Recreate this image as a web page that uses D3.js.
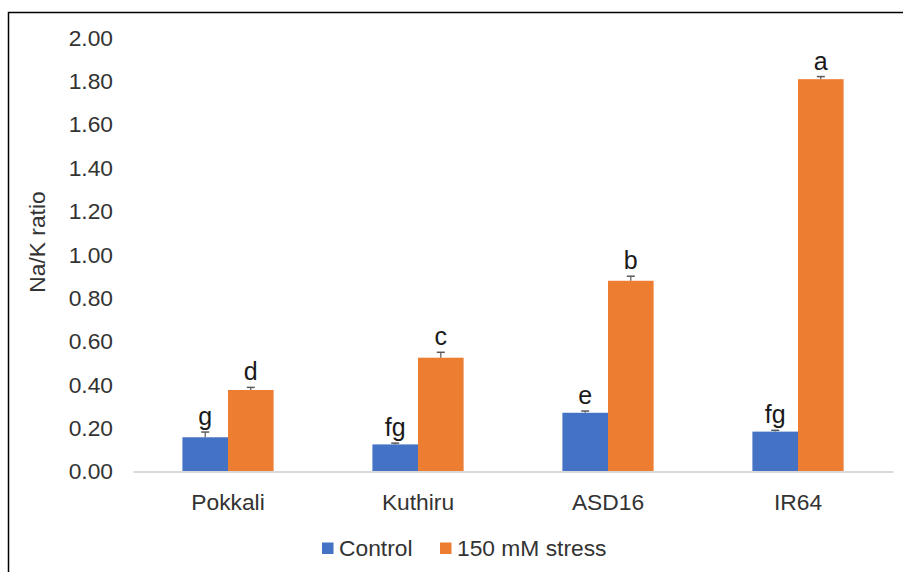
<!DOCTYPE html>
<html><head><meta charset="utf-8">
<script src="https://cdn.jsdelivr.net/npm/d3@7"></script>
<style>body{margin:0;background:#fff}svg{display:block}</style>
</head><body>
<svg id="c" width="903" height="572"></svg>
<script>
const categories = ["Pokkali", "Kuthiru", "ASD16", "IR64"];
const seriesNames = ["Control", "150 mM stress"];
const controlValues = [0.158, 0.125, 0.271, 0.184];
const stressValues = [0.376, 0.525, 0.880, 1.810];
const controlErrors = [0.024, 0.006, 0.008, 0.006];
const stressErrors = [0.012, 0.025, 0.021, 0.012];
const controlLetters = ["g", "fg", "e", "fg"];
const stressLetters = ["d", "c", "b", "a"];
const yTicks = [0, 0.2, 0.4, 0.6, 0.8, 1.0, 1.2, 1.4, 1.6, 1.8, 2.0];
const colors = ["#4472C4", "#ED7D31"];

const svg = d3.select("#c");
const font = "'Liberation Sans', Arial, sans-serif";
const fs = 22.8;
const textColor = "#333";

// frame (left and top edges visible)
svg.append("rect").attr("x", 8.5).attr("y", 12.5).attr("width", 920).attr("height", 600)
  .attr("fill", "none").attr("stroke", "#000").attr("stroke-width", 1.5);

const x = d3.scaleBand().domain(categories).range([133, 893]).paddingInner(0.52).paddingOuter(0.26);
const xs = d3.scaleBand().domain(seriesNames).range([0, x.bandwidth()]);
const y = d3.scaleLinear().domain([0, 2]).range([471.5, 38]);

// y axis labels
const ya = svg.append("g").attr("transform", "translate(133,0)")
  .call(d3.axisLeft(y).tickValues(yTicks).tickSize(0).tickPadding(20).tickFormat(d3.format(".2f")));
ya.select(".domain").remove();
ya.selectAll("text").attr("font-family", font).attr("font-size", fs).attr("fill", textColor);

// bars
const series = [
  {name: seriesNames[0], values: controlValues, errors: controlErrors, letters: controlLetters, color: colors[0]},
  {name: seriesNames[1], values: stressValues, errors: stressErrors, letters: stressLetters, color: colors[1]}
];
series.forEach(s => {
  const g = svg.append("g");
  categories.forEach((c, i) => {
    const bx = x(c) + xs(s.name);
    const bw = xs.bandwidth();
    const v = s.values[i], e = s.errors[i];
    g.append("rect").attr("x", bx).attr("y", y(v)).attr("width", bw).attr("height", y(0) - y(v))
      .attr("fill", s.color);
    const cx = bx + bw / 2;
    g.append("line").attr("x1", cx).attr("x2", cx).attr("y1", y(v)).attr("y2", y(v + e))
      .attr("stroke", "#595959").attr("stroke-width", 1.2);
    g.append("line").attr("x1", cx - 4).attr("x2", cx + 4).attr("y1", y(v + e)).attr("y2", y(v + e))
      .attr("stroke", "#595959").attr("stroke-width", 1.5);
    g.append("text").attr("x", cx).attr("y", y(v + e) - 7).attr("text-anchor", "middle")
      .attr("font-family", font).attr("font-size", 25).attr("fill", "#1a1a1a").text(s.letters[i]);
  });
});

// x axis
const xa = svg.append("g").attr("transform", "translate(0,471.5)")
  .call(d3.axisBottom(x).tickSize(0).tickPadding(22));
xa.select(".domain").attr("stroke", "#d9d9d9").attr("stroke-width", 2);
xa.selectAll("text").attr("font-family", font).attr("font-size", fs).attr("fill", textColor);

// y axis title
svg.append("text").attr("transform", "translate(45,242) rotate(-90)").attr("text-anchor", "middle")
  .attr("font-family", font).attr("font-size", fs).attr("fill", textColor).text("Na/K ratio");

// legend
const legendX = [322, 440];
series.forEach((s, i) => {
  svg.append("rect").attr("x", legendX[i]).attr("y", 542.5).attr("width", 11.5).attr("height", 11.5).attr("fill", s.color);
  svg.append("text").attr("x", legendX[i] + 17).attr("y", 555.5).attr("font-family", font)
    .attr("font-size", fs).attr("fill", textColor).text(s.name);
});
</script>
</body></html>
